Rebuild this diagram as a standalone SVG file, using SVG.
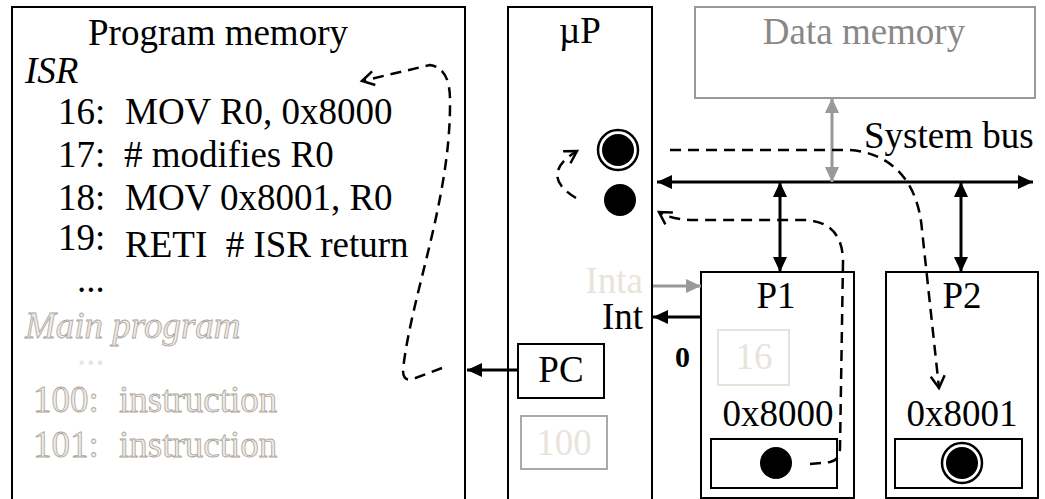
<svg xmlns="http://www.w3.org/2000/svg" width="1045" height="499" viewBox="0 0 1045 499">
<style>
  .t{font-family:"Liberation Serif","Times New Roman",serif;font-size:37px;fill:#000;white-space:pre}
  .box{fill:none;stroke:#000;stroke-width:2}
  .ghost{fill:#efebe5;stroke:#aaa59d;stroke-width:0.8}
  .pale{fill:#e8e4dc}
  .dash{fill:none;stroke:#000;stroke-width:2.5;stroke-dasharray:11 7}
  .solid{fill:none;stroke:#000;stroke-width:3}
</style>
<defs>
  <marker id="open" viewBox="-15 -9 18 18" refX="0" refY="0" markerWidth="18" markerHeight="18" markerUnits="userSpaceOnUse" orient="auto">
    <path d="M-12,-7 L0,0 L-12,7" fill="none" stroke="#000" stroke-width="2.5"/>
  </marker>
  <marker id="tri" viewBox="-15 -8 16 16" refX="0" refY="0" markerWidth="16" markerHeight="16" markerUnits="userSpaceOnUse" orient="auto-start-reverse">
    <path d="M-15,-7 L0,0 L-15,7 z" fill="#000"/>
  </marker>
  <marker id="trig" viewBox="-15 -8 16 16" refX="0" refY="0" markerWidth="16" markerHeight="16" markerUnits="userSpaceOnUse" orient="auto-start-reverse">
    <path d="M-15,-7 L0,0 L-15,7 z" fill="#999"/>
  </marker>
</defs>

<g id="program-memory">
  <rect class="box" x="12" y="7" width="453" height="500"/>
  <text class="t" x="218" y="45" text-anchor="middle">Program memory</text>
  <text class="t" x="25" y="83" font-style="italic">ISR</text>
  <text class="t" x="58" y="124">16:</text><text class="t" x="125" y="124">MOV R0, 0x8000</text>
  <text class="t" x="58" y="167">17:</text><text class="t" x="124" y="167"># modifies R0</text>
  <text class="t" x="58" y="210">18:</text><text class="t" x="125" y="210">MOV 0x8001, R0</text>
  <text class="t" x="58" y="250">19:</text><text class="t" x="125" y="257" xml:space="preserve">RETI  # ISR return</text>
  <text class="t" x="77" y="292">...</text>
  <text class="t ghost" x="25" y="338" font-style="italic">Main program</text>
  <text class="t pale" x="77" y="365">...</text>
  <text class="t ghost" x="33" y="412">100:</text><text class="t ghost" x="119" y="412">instruction</text>
  <text class="t ghost" x="33" y="457">101:</text><text class="t ghost" x="119" y="457">instruction</text>
</g>

<g id="microprocessor">
  <rect class="box" x="508" y="7" width="144" height="500"/>
  <text class="t" x="580" y="43" text-anchor="middle">µP</text>
  <circle cx="618" cy="150" r="20" fill="#fff" stroke="#000" stroke-width="2.5"/>
  <circle cx="618" cy="150" r="16" fill="#000"/>
  <circle cx="620" cy="200" r="16" fill="#000"/>
</g>

<g id="pc">
  <rect class="box" x="518" y="344" width="86" height="54"/>
  <text class="t" x="561" y="382" text-anchor="middle">PC</text>
</g>

<g id="pc-value">
  <rect x="521" y="416" width="86" height="53" fill="none" stroke="#aaa" stroke-width="2"/>
  <text class="t pale" x="564" y="455" text-anchor="middle">100</text>
</g>

<g id="data-memory">
  <rect x="695" y="7" width="340" height="91" fill="none" stroke="#999" stroke-width="2"/>
  <text class="t" x="864" y="44" text-anchor="middle" style="fill:#888">Data memory</text>
</g>

<g id="system-bus-label">
  <text class="t" x="864" y="148">System bus</text>
</g>

<g id="p1">
  <rect class="box" x="701" y="272" width="153" height="226"/>
  <text class="t" x="776" y="308" text-anchor="middle">P1</text>
  <rect x="718" y="330" width="71" height="55" fill="none" stroke="#e6e2da" stroke-width="2"/>
  <text class="t pale" x="754" y="369" text-anchor="middle">16</text>
  <text class="t" x="778" y="426" text-anchor="middle">0x8000</text>
  <rect class="box" x="711" y="439" width="126" height="49"/>
  <circle cx="776" cy="463" r="16" fill="#000"/>
</g>

<g id="p2">
  <rect class="box" x="886" y="272" width="152" height="226"/>
  <text class="t" x="962" y="308" text-anchor="middle">P2</text>
  <text class="t" x="962" y="426" text-anchor="middle">0x8001</text>
  <rect class="box" x="895" y="439" width="127" height="49"/>
  <circle cx="962" cy="463" r="20" fill="#fff" stroke="#000" stroke-width="2.5"/>
  <circle cx="962" cy="463" r="16" fill="#000"/>
</g>

<g id="signal-labels">
  <text class="t pale" x="643" y="293" text-anchor="end">Inta</text>
  <text class="t" x="643" y="329" text-anchor="end">Int</text>
  <text class="t" x="675" y="367" font-weight="bold" style="font-size:30px">0</text>
</g>

<g id="connectors">
  <path class="solid" d="M657,182 L1033,182" marker-start="url(#tri)" marker-end="url(#tri)"/>
  <path class="solid" d="M780,182 L780,272" marker-start="url(#tri)" marker-end="url(#tri)"/>
  <path class="solid" d="M961,182 L961,272" marker-start="url(#tri)" marker-end="url(#tri)"/>
  <path d="M832,98 L832,182" fill="none" stroke="#999" stroke-width="3" marker-start="url(#trig)" marker-end="url(#trig)"/>
  <path class="solid" d="M518,370 L467,370" marker-end="url(#tri)"/>
  <path class="solid" d="M701,317 L653,317" marker-end="url(#tri)"/>
  <path d="M653,286 L701,286" fill="none" stroke="#999" stroke-width="3" marker-end="url(#trig)"/>

  <path class="dash" d="M442,368 L413,379 Q403,382 403,370 C411,295 451,200 450,100 Q450,68 430,65 L362,81" marker-end="url(#open)"/>
  <path class="dash" d="M576,198 Q538,175 577,151" marker-end="url(#open)"/>
  <path class="dash" d="M670,150 L848,150 C890,152 918,180 922,230 L939,388" marker-end="url(#open)"/>
  <path class="dash" d="M810,464 L830,462 Q840,460 840,448 L843,262 Q843,222 805,220 L690,220 Q670,219 659,212" marker-end="url(#open)"/>
</g>
</svg>
